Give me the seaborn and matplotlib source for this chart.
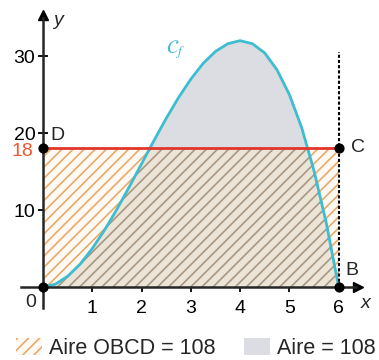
import numpy as np
import pandas as pd
import matplotlib
import matplotlib.pyplot as plt
import seaborn as sns
from matplotlib.patches import Patch

# curve C_f
x_vals = [0, 0.25, 0.5, 0.75, 1, 1.25, 1.5, 1.75, 2, 2.25, 2.5, 2.75, 3,
          3.25, 3.5, 3.75, 4, 4.25, 4.5, 4.75, 5, 5.25, 5.5, 5.75, 6]
f_vals = [0, 0.36, 1.4, 2.95, 5, 7.4, 10.1, 13, 16, 19, 21.9, 24.6, 27,
          29.05, 30.6, 31.6, 32, 31.6, 30.4, 28.2, 25, 20.7, 15.1, 8.3, 0]
df = pd.DataFrame({"x": x_vals, "y": f_vals})

# rectangle OBCD
rect_x = [0, 6]
rect_h = [18, 18]
pts_x = [0, 6, 6, 0]
pts_y = [0, 0, 18, 18]
x_ticks = [1, 2, 3, 4, 5, 6]
y_ticks = [10, 20, 30]
area_rect = 108
area_curve = 108

sns.set_style("white")
plt.rcParams['font.family'] = ['Liberation Sans', 'DejaVu Sans']
plt.rcParams['mathtext.fontset'] = 'stix'
plt.rcParams['hatch.linewidth'] = 1.2

cyan = "#3dbdd0"
red = "#e2352b"
orange_red = "#ea5a32"

fig = plt.figure(figsize=(3.79, 3.6), dpi=100)
ax = fig.add_axes([0.0095, 0.1386, 0.975, 0.834])
ax.set_xlim(-0.8, 6.7)
ax.set_ylim(-3, 36)

# hatched rectangle (outside the curve)
ax.fill_between(rect_x, rect_h, facecolor="#fefaf3", edgecolor="#e8aa6c",
                hatch="///", lw=0, zorder=1)
# grey area under the curve
under = ax.fill_between(x_vals, f_vals, facecolor="#dcdde2", lw=0, zorder=2)
# hatched overlap, clipped to the area under the curve
over = ax.fill_between(rect_x, rect_h, facecolor="#ebe4d7", edgecolor="#a99783",
                       hatch="///", lw=0, zorder=3)
over.set_clip_path(under.get_paths()[0], ax.transData)

sns.lineplot(data=df, x="x", y="y", color=cyan, lw=2, ax=ax, zorder=5)
ax.plot(rect_x, rect_h, color=red, lw=2, zorder=6)
ax.plot([6, 6], [0, 30.5], color="black", lw=1.5, ls=(0, (1.5, 1)), zorder=6)
ax.scatter(pts_x, pts_y, s=40, color="black", zorder=8)

# axes through the origin
for s in ["top", "right"]:
    ax.spines[s].set_visible(False)
ax.spines["left"].set_position(("data", 0))
ax.spines["bottom"].set_position(("data", 0))
ax.spines["left"].set_bounds(-2.7, 35)
ax.spines["bottom"].set_bounds(-0.45, 6.35)
ax.spines["left"].set_linewidth(1.8)
ax.spines["bottom"].set_linewidth(1.8)
ax.spines["left"].set_zorder(7)
ax.spines["bottom"].set_zorder(7)
ax.plot(6.4, 0, ">", color="black", ms=7, clip_on=False, zorder=7)
ax.plot(0, 35.3, "^", color="black", ms=7, clip_on=False, zorder=7)

ax.set_xticks(x_ticks)
ax.set_yticks(y_ticks)
ax.tick_params(bottom=True, left=True, direction="inout", length=7, width=1.3,
               labelsize=14, colors="black")
ax.tick_params(axis="x", pad=6)
ax.tick_params(axis="y", pad=2)
ax.set_xlabel("")
ax.set_ylabel("")

ax.text(-0.25, -2.0, "0", fontsize=14, ha="center", va="center")
ax.text(-0.2, 17.6, "18", fontsize=14, ha="right", va="center", color=orange_red)
ax.text(0.14, 19.7, "D", fontsize=14, ha="left", va="center")
ax.text(6.25, 18.1, "C", fontsize=14, ha="left", va="center")
ax.text(6.13, 2.1, "B", fontsize=14, ha="left", va="center")
ax.text(0.2, 34.6, "y", fontsize=14, ha="left", va="center", style="italic")
ax.text(6.55, -2.2, "x", fontsize=14, ha="center", va="center", style="italic")
ax.text(2.7, 30.8, r"$\mathcal{C}_f$", fontsize=14, ha="center", va="center",
        color=cyan)

handles = [Patch(facecolor="#fefaf3", edgecolor="#e8aa6c", hatch="///", lw=0),
           Patch(facecolor="#dcdde2", lw=0)]
labels = [f"Aire OBCD = {area_rect}", f"Aire = {area_curve}"]
fig.legend(handles, labels, loc="lower left", bbox_to_anchor=(0.042, 0.004),
           ncol=2, frameon=False, fontsize=15.5, handlelength=1.2,
           handleheight=0.85, handletextpad=0.35, columnspacing=1.3,
           borderpad=0, borderaxespad=0)

plt.savefig("out.png", dpi=100)
